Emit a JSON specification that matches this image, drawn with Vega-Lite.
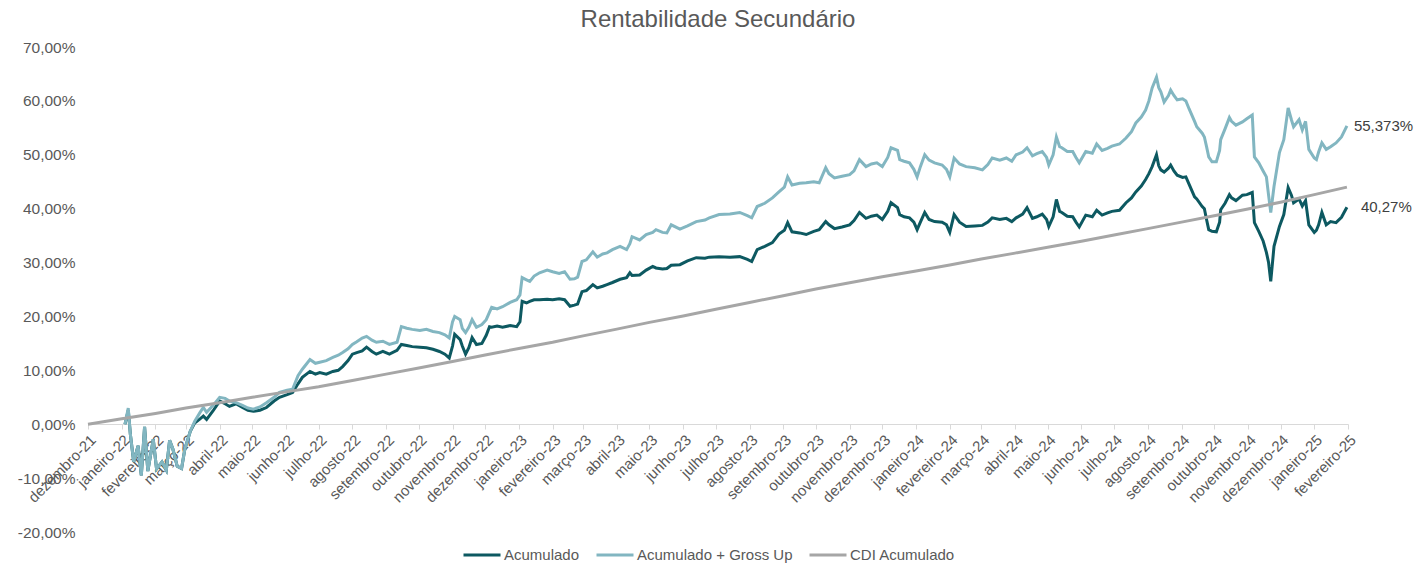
{
"$schema": "https://vega.github.io/schema/vega-lite/v6.json",
"width": 1260, "height": 485,
"autosize": {"type": "none"},
"padding": {"left": 88, "top": 47, "right": 79, "bottom": 33},
"background": "white",
"title": {"text": "Rentabilidade Secundário", "fontSize": 24, "font": "Liberation Sans", "fontWeight": "normal", "color": "#595959", "anchor": "middle", "frame": "group", "offset": 8},
"datasets": {
"port": [
{"d":"2022-01-04","a":0.0,"g":0.0},{"d":"2022-01-07","a":2.6,"g":3.0},{"d":"2022-01-09","a":-2.0,"g":-2.0},{"d":"2022-01-12","a":-7.0,"g":-7.0},{"d":"2022-01-16","a":-4.0,"g":-4.0},{"d":"2022-01-19","a":-9.5,"g":-9.5},{"d":"2022-01-22","a":-0.5,"g":-0.5},{"d":"2022-01-25","a":-8.7,"g":-8.7},{"d":"2022-01-30","a":-2.8,"g":-2.8},{"d":"2022-02-02","a":-8.3,"g":-8.3},{"d":"2022-02-07","a":-7.0,"g":-7.0},{"d":"2022-02-11","a":-8.5,"g":-8.5},{"d":"2022-02-14","a":-3.0,"g":-3.0},{"d":"2022-02-17","a":-4.6,"g":-4.6},{"d":"2022-02-21","a":-7.8,"g":-7.8},{"d":"2022-02-25","a":-8.2,"g":-8.2},{"d":"2022-02-28","a":-4.6,"g":-4.6},
{"d":"2022-03-05","a":-1.3,"g":-1.3},{"d":"2022-03-09","a":0.2,"g":0.5},{"d":"2022-03-14","a":1.0,"g":2.2},{"d":"2022-03-17","a":1.5,"g":3.1},{"d":"2022-03-20","a":0.9,"g":2.2},{"d":"2022-03-26","a":2.5,"g":3.5},{"d":"2022-04-01","a":4.3,"g":5.0},{"d":"2022-04-06","a":3.8,"g":4.8},{"d":"2022-04-10","a":3.3,"g":4.3},{"d":"2022-04-16","a":3.8,"g":4.0},{"d":"2022-04-22","a":3.1,"g":3.5},{"d":"2022-04-27","a":2.6,"g":3.0},{"d":"2022-05-02","a":2.4,"g":2.8},{"d":"2022-05-08","a":2.6,"g":3.2},{"d":"2022-05-14","a":3.1,"g":4.0},{"d":"2022-05-21","a":4.3,"g":5.0},{"d":"2022-05-26","a":5.0,"g":5.9},
{"d":"2022-06-02","a":5.5,"g":6.3},{"d":"2022-06-07","a":5.9,"g":6.5},{"d":"2022-06-12","a":7.5,"g":9.0},{"d":"2022-06-16","a":8.7,"g":10.2},{"d":"2022-06-23","a":9.8,"g":12.0},{"d":"2022-06-28","a":9.3,"g":11.3},{"d":"2022-07-02","a":9.6,"g":11.5},{"d":"2022-07-08","a":9.3,"g":11.8},{"d":"2022-07-14","a":9.8,"g":12.4},{"d":"2022-07-19","a":10.0,"g":12.8},{"d":"2022-07-23","a":10.7,"g":13.3},{"d":"2022-07-28","a":11.8,"g":14.0},{"d":"2022-08-01","a":13.0,"g":14.8},{"d":"2022-08-05","a":13.3,"g":15.3},{"d":"2022-08-10","a":13.6,"g":16.0},{"d":"2022-08-14","a":14.3,"g":16.3},{"d":"2022-08-19","a":13.5,"g":15.6},{"d":"2022-08-23","a":13.0,"g":15.2},{"d":"2022-08-29","a":13.5,"g":15.4},
{"d":"2022-09-04","a":13.0,"g":14.8},{"d":"2022-09-11","a":13.7,"g":15.2},{"d":"2022-09-15","a":14.8,"g":18.1},{"d":"2022-09-20","a":14.6,"g":17.8},{"d":"2022-09-25","a":14.4,"g":17.6},{"d":"2022-10-02","a":14.3,"g":17.4},{"d":"2022-10-08","a":14.2,"g":17.6},{"d":"2022-10-14","a":13.9,"g":17.2},{"d":"2022-10-20","a":13.5,"g":17.0},{"d":"2022-10-25","a":13.0,"g":16.6},{"d":"2022-10-29","a":12.3,"g":16.0},{"d":"2022-11-01","a":14.5,"g":19.0},{"d":"2022-11-03","a":16.7,"g":20.0},{"d":"2022-11-08","a":15.7,"g":19.4},{"d":"2022-11-10","a":14.5,"g":17.8},{"d":"2022-11-13","a":13.0,"g":17.0},{"d":"2022-11-16","a":14.2,"g":18.0},{"d":"2022-11-19","a":16.1,"g":19.4},{"d":"2022-11-23","a":14.8,"g":18.0},{"d":"2022-11-28","a":15.0,"g":18.5},
{"d":"2022-12-02","a":16.5,"g":19.4},{"d":"2022-12-05","a":18.1,"g":20.8},{"d":"2022-12-07","a":18.0,"g":21.7},{"d":"2022-12-12","a":18.2,"g":21.4},{"d":"2022-12-17","a":18.0,"g":21.8},{"d":"2022-12-24","a":18.3,"g":22.6},{"d":"2022-12-30","a":18.1,"g":23.1},{"d":"2023-01-02","a":19.0,"g":24.0},{"d":"2023-01-04","a":22.8,"g":27.2},{"d":"2023-01-08","a":22.5,"g":26.8},{"d":"2023-01-11","a":22.8,"g":26.5},{"d":"2023-01-15","a":23.1,"g":27.5},{"d":"2023-01-20","a":23.1,"g":28.1},{"d":"2023-01-27","a":23.2,"g":28.6},{"d":"2023-02-01","a":23.1,"g":28.3},{"d":"2023-02-07","a":23.3,"g":28.0},{"d":"2023-02-12","a":23.1,"g":28.3},{"d":"2023-02-17","a":21.9,"g":26.9},{"d":"2023-02-21","a":22.1,"g":27.0},{"d":"2023-02-24","a":22.3,"g":27.3},{"d":"2023-02-28","a":24.6,"g":30.2},
{"d":"2023-03-04","a":24.8,"g":30.5},{"d":"2023-03-10","a":25.9,"g":32.0},{"d":"2023-03-14","a":25.3,"g":31.0},{"d":"2023-03-19","a":25.6,"g":31.6},{"d":"2023-03-23","a":25.9,"g":31.8},{"d":"2023-03-28","a":26.3,"g":32.4},{"d":"2023-04-04","a":26.9,"g":33.0},{"d":"2023-04-10","a":27.2,"g":32.4},{"d":"2023-04-13","a":28.1,"g":33.5},{"d":"2023-04-15","a":27.6,"g":34.8},{"d":"2023-04-22","a":27.7,"g":34.2},{"d":"2023-04-28","a":28.6,"g":35.2},{"d":"2023-05-04","a":29.3,"g":35.6},{"d":"2023-05-07","a":29.0,"g":36.1},{"d":"2023-05-13","a":28.8,"g":35.6},{"d":"2023-05-17","a":28.9,"g":35.5},{"d":"2023-05-21","a":29.5,"g":37.0},{"d":"2023-05-29","a":29.6,"g":36.2},
{"d":"2023-06-05","a":30.3,"g":36.8},{"d":"2023-06-13","a":30.9,"g":37.6},{"d":"2023-06-21","a":30.8,"g":37.9},{"d":"2023-06-25","a":31.0,"g":38.3},{"d":"2023-07-04","a":31.1,"g":38.9},{"d":"2023-07-14","a":31.0,"g":39.0},{"d":"2023-07-23","a":31.1,"g":39.3},{"d":"2023-07-30","a":30.6,"g":38.7},{"d":"2023-08-03","a":30.2,"g":38.3},{"d":"2023-08-08","a":32.4,"g":40.4},{"d":"2023-08-15","a":33.0,"g":41.0},{"d":"2023-08-22","a":33.7,"g":42.0},{"d":"2023-08-28","a":35.3,"g":43.1},{"d":"2023-09-02","a":36.0,"g":44.0},{"d":"2023-09-05","a":37.4,"g":45.9},{"d":"2023-09-09","a":35.7,"g":44.4},{"d":"2023-09-16","a":35.5,"g":44.7},{"d":"2023-09-22","a":35.2,"g":44.8},{"d":"2023-09-29","a":35.8,"g":45.0},
{"d":"2023-10-04","a":36.1,"g":44.8},{"d":"2023-10-10","a":37.6,"g":47.6},{"d":"2023-10-13","a":37.0,"g":46.5},{"d":"2023-10-18","a":36.3,"g":45.7},{"d":"2023-10-25","a":36.6,"g":46.0},{"d":"2023-11-01","a":37.0,"g":46.3},{"d":"2023-11-05","a":37.8,"g":47.0},{"d":"2023-11-10","a":39.3,"g":49.1},{"d":"2023-11-16","a":38.2,"g":47.8},{"d":"2023-11-21","a":38.6,"g":48.3},{"d":"2023-11-26","a":38.8,"g":48.5},{"d":"2023-12-01","a":38.0,"g":47.8},{"d":"2023-12-06","a":39.5,"g":49.5},{"d":"2023-12-09","a":41.1,"g":51.3},{"d":"2023-12-15","a":40.2,"g":50.8},{"d":"2023-12-17","a":38.9,"g":49.1},{"d":"2023-12-21","a":38.5,"g":48.8},{"d":"2023-12-26","a":38.3,"g":48.5},{"d":"2023-12-30","a":37.5,"g":47.3},
{"d":"2024-01-02","a":36.1,"g":45.9},{"d":"2024-01-05","a":37.5,"g":47.8},{"d":"2024-01-09","a":39.3,"g":50.0},{"d":"2024-01-13","a":38.0,"g":49.0},{"d":"2024-01-18","a":37.6,"g":48.5},{"d":"2024-01-25","a":37.5,"g":48.1},{"d":"2024-01-29","a":37.0,"g":47.3},{"d":"2024-02-01","a":35.6,"g":45.9},{"d":"2024-02-05","a":38.9,"g":49.4},{"d":"2024-02-10","a":37.5,"g":48.3},{"d":"2024-02-16","a":36.7,"g":47.8},{"d":"2024-02-24","a":36.8,"g":47.6},{"d":"2024-03-02","a":36.9,"g":47.2},{"d":"2024-03-07","a":37.5,"g":48.2},{"d":"2024-03-11","a":38.3,"g":49.4},{"d":"2024-03-18","a":38.0,"g":49.0},{"d":"2024-03-24","a":38.2,"g":49.4},{"d":"2024-03-29","a":37.6,"g":48.8},
{"d":"2024-04-02","a":38.3,"g":50.0},{"d":"2024-04-08","a":39.0,"g":50.5},{"d":"2024-04-12","a":40.2,"g":51.3},{"d":"2024-04-17","a":38.2,"g":49.8},{"d":"2024-04-21","a":38.5,"g":50.2},{"d":"2024-04-26","a":39.0,"g":50.6},{"d":"2024-04-30","a":38.0,"g":49.5},{"d":"2024-05-02","a":36.7,"g":48.1},{"d":"2024-05-06","a":38.5,"g":50.0},{"d":"2024-05-09","a":41.7,"g":53.3},{"d":"2024-05-12","a":39.5,"g":51.5},{"d":"2024-05-14","a":39.3,"g":51.3},{"d":"2024-05-19","a":38.6,"g":50.6},{"d":"2024-05-24","a":38.5,"g":50.6},{"d":"2024-05-27","a":37.5,"g":49.5},{"d":"2024-05-30","a":36.6,"g":48.5},
{"d":"2024-06-05","a":38.8,"g":50.6},{"d":"2024-06-11","a":38.5,"g":50.3},{"d":"2024-06-15","a":39.7,"g":52.0},{"d":"2024-06-20","a":38.8,"g":50.8},{"d":"2024-06-25","a":39.2,"g":51.2},{"d":"2024-06-29","a":39.5,"g":51.6},{"d":"2024-07-06","a":39.7,"g":52.0},{"d":"2024-07-12","a":41.1,"g":53.1},{"d":"2024-07-17","a":42.0,"g":54.3},{"d":"2024-07-21","a":43.1,"g":55.9},{"d":"2024-07-26","a":44.2,"g":57.0},{"d":"2024-07-30","a":45.4,"g":58.3},{"d":"2024-08-02","a":46.5,"g":60.0},{"d":"2024-08-05","a":47.8,"g":62.4},{"d":"2024-08-09","a":50.0,"g":64.4},{"d":"2024-08-11","a":48.0,"g":62.5},{"d":"2024-08-13","a":47.2,"g":61.7},{"d":"2024-08-16","a":46.8,"g":59.8},{"d":"2024-08-20","a":47.5,"g":61.0},{"d":"2024-08-22","a":48.1,"g":62.0},{"d":"2024-08-25","a":47.0,"g":61.0},{"d":"2024-08-28","a":46.2,"g":60.2},
{"d":"2024-09-02","a":45.8,"g":60.4},{"d":"2024-09-05","a":45.9,"g":60.0},{"d":"2024-09-08","a":44.5,"g":58.5},{"d":"2024-09-13","a":42.2,"g":56.2},{"d":"2024-09-15","a":41.8,"g":55.2},{"d":"2024-09-20","a":40.4,"g":54.0},{"d":"2024-09-22","a":40.0,"g":53.3},{"d":"2024-09-24","a":38.0,"g":51.5},{"d":"2024-09-26","a":36.1,"g":49.6},{"d":"2024-09-29","a":35.8,"g":48.7},{"d":"2024-10-03","a":35.7,"g":48.7},{"d":"2024-10-06","a":37.5,"g":50.8},{"d":"2024-10-07","a":39.8,"g":52.8},{"d":"2024-10-11","a":41.0,"g":54.8},{"d":"2024-10-15","a":42.6,"g":56.9},{"d":"2024-10-17","a":42.0,"g":56.2},{"d":"2024-10-21","a":41.5,"g":55.5},{"d":"2024-10-27","a":42.5,"g":56.1},{"d":"2024-10-31","a":42.6,"g":56.7},
{"d":"2024-11-05","a":43.0,"g":57.4},{"d":"2024-11-07","a":37.4,"g":49.6},{"d":"2024-11-11","a":35.8,"g":48.5},{"d":"2024-11-15","a":34.0,"g":47.0},{"d":"2024-11-18","a":31.9,"g":45.9},{"d":"2024-11-20","a":30.0,"g":42.5},{"d":"2024-11-22","a":26.5,"g":39.3},{"d":"2024-11-25","a":33.0,"g":44.1},{"d":"2024-11-30","a":36.7,"g":50.4},{"d":"2024-12-04","a":38.9,"g":52.8},{"d":"2024-12-08","a":43.9,"g":58.7},{"d":"2024-12-11","a":42.5,"g":56.5},{"d":"2024-12-13","a":41.1,"g":55.2},{"d":"2024-12-18","a":41.8,"g":56.5},{"d":"2024-12-21","a":40.5,"g":54.6},{"d":"2024-12-24","a":41.5,"g":56.2},{"d":"2024-12-27","a":37.0,"g":51.0},
{"d":"2025-01-01","a":35.6,"g":49.4},{"d":"2025-01-03","a":36.0,"g":49.1},{"d":"2025-01-05","a":37.0,"g":50.5},{"d":"2025-01-08","a":39.3,"g":52.2},{"d":"2025-01-12","a":37.0,"g":51.0},{"d":"2025-01-16","a":37.6,"g":51.5},{"d":"2025-01-21","a":37.4,"g":52.2},{"d":"2025-01-26","a":38.4,"g":53.3},{"d":"2025-01-31","a":40.27,"g":55.373}
],
"cdi": [
{"d":"2021-12-01","c":0},{"d":"2022-01-01","c":1.0},{"d":"2022-02-01","c":2.0},{"d":"2022-03-01","c":3.0},{"d":"2022-04-01","c":4.0},{"d":"2022-05-01","c":5.0},{"d":"2022-06-01","c":6.0},{"d":"2022-07-01","c":6.95},{"d":"2022-08-01","c":8.1},{"d":"2022-09-01","c":9.3},{"d":"2022-10-01","c":10.45},{"d":"2022-11-01","c":11.65},{"d":"2022-12-01","c":12.85},{"d":"2023-01-01","c":14.05},{"d":"2023-02-01","c":15.2},{"d":"2023-03-01","c":16.4},{"d":"2023-04-01","c":17.65},{"d":"2023-05-01","c":18.9},{"d":"2023-06-01","c":20.1},{"d":"2023-07-01","c":21.35},{"d":"2023-08-01","c":22.6},{"d":"2023-09-01","c":23.85},{"d":"2023-10-01","c":25.1},{"d":"2023-11-01","c":26.25},{"d":"2023-12-01","c":27.35},{"d":"2024-01-01","c":28.45},{"d":"2024-02-01","c":29.55},{"d":"2024-03-01","c":30.65},{"d":"2024-04-01","c":31.75},{"d":"2024-05-01","c":32.85},{"d":"2024-06-01","c":33.95},{"d":"2024-07-01","c":35.1},{"d":"2024-08-01","c":36.3},{"d":"2024-09-01","c":37.5},{"d":"2024-10-01","c":38.7},{"d":"2024-11-01","c":39.95},{"d":"2024-12-01","c":41.2},{"d":"2025-01-01","c":42.6},{"d":"2025-01-31","c":44.0}
]
},
"encoding": {
"x": {"field": "d", "type": "temporal",
 "scale": {"type": "utc", "domain": [{"year": 2021, "month": 12, "date": 1, "utc": true}, {"year": 2025, "month": 2, "date": 1, "utc": true}]},
 "axis": {"title": null, "tickCount": {"interval": "month", "step": 1},
  "labelExpr": "['janeiro','fevereiro','março','abril','maio','junho','julho','agosto','setembro','outubro','novembro','dezembro'][utcmonth(datum.value)] + '-' + utcFormat(datum.value, '%y')",
  "labelAngle": -45, "labelOverlap": false, "labelFlush": false, "labelBound": false,
  "offset": -108, "domainColor": "#D9D9D9", "tickColor": "#D9D9D9", "tickSize": 5, "grid": false,
  "labelFontSize": 15, "labelColor": "#595959", "labelFont": "Liberation Sans", "labelPadding": 3}}
},
"layer": [
{"data": {"name": "port"}, "mark": {"type": "line", "strokeWidth": 3},
 "encoding": {
  "y": {"field": "a", "type": "quantitative", "title": null,
   "scale": {"domain": [-20, 70], "nice": false, "zero": false},
   "axis": {"title": null, "values": [-20, -10, 0, 10, 20, 30, 40, 50, 60, 70], "format": "$.2f", "grid": false, "domain": false, "ticks": false, "labelPadding": 13, "labelFontSize": 15.5, "labelColor": "#595959", "labelFont": "Liberation Sans"}},
  "color": {"datum": "Acumulado", "type": "nominal",
   "scale": {"domain": ["Acumulado", "Acumulado + Gross Up", "CDI Acumulado"], "range": ["#0D5961", "#82B6C1", "#A6A6A6"]},
   "legend": {"title": null, "orient": "none", "legendX": 374, "legendY": 488, "direction": "horizontal", "symbolType": "stroke", "symbolSize": 1369, "symbolStrokeWidth": 3, "labelFontSize": 15, "labelColor": "#595959", "labelFont": "Liberation Sans", "columnPadding": 10, "labelOffset": 2, "padding": 0}}
 }},
{"data": {"name": "port"}, "mark": {"type": "line", "strokeWidth": 3},
 "encoding": {"y": {"field": "g", "type": "quantitative"}, "color": {"datum": "Acumulado + Gross Up", "type": "nominal"}}},
{"data": {"name": "cdi"}, "mark": {"type": "line", "strokeWidth": 3},
 "encoding": {"y": {"field": "c", "type": "quantitative"}, "color": {"datum": "CDI Acumulado", "type": "nominal"}}},
{"data": {"name": "port"}, "transform": [{"filter": "datum.g == 55.373"}],
 "mark": {"type": "text", "align": "left", "baseline": "middle", "dx": 7, "fontSize": 15, "font": "Liberation Sans", "color": "#404040"},
 "encoding": {"y": {"field": "g", "type": "quantitative"}, "text": {"field": "g", "type": "quantitative", "format": "$.3f"}}},
{"data": {"name": "port"}, "transform": [{"filter": "datum.a == 40.27"}],
 "mark": {"type": "text", "align": "left", "baseline": "middle", "dx": 14, "fontSize": 15, "font": "Liberation Sans", "color": "#404040"},
 "encoding": {"y": {"field": "a", "type": "quantitative"}, "text": {"field": "a", "type": "quantitative", "format": "$.2f"}}}
],
"config": {
 "locale": {"number": {"decimal": ",", "thousands": ".", "grouping": [3], "currency": ["", "%"], "minus": "-"}},
 "view": {"stroke": null},
 "font": "Liberation Sans"
}
}
